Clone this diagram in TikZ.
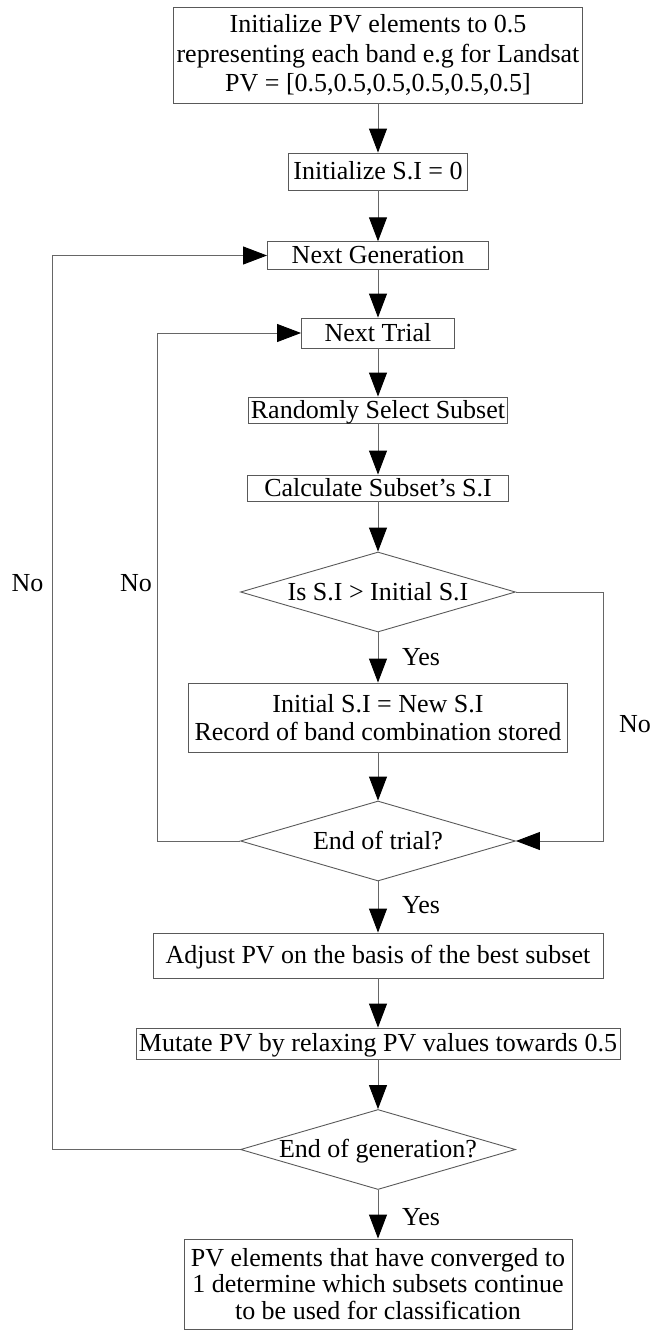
\documentclass[tikz,border=0pt]{standalone}
\usepackage{fontspec}
\setmainfont{Liberation Serif}
\usetikzlibrary{shapes.geometric,arrows.meta}
\begin{document}
\begin{tikzpicture}[x=1pt,y=-1pt,
  every node/.style={font=\fontsize{26}{28}\selectfont},
  box/.style={draw=black!65, line width=0.9pt, rectangle, inner sep=0pt, align=center},
  single/.style={text height=17.5pt, text depth=1pt},
  dia/.style={draw=black!65, line width=0.9pt, diamond, aspect=3.44, inner sep=-9pt,
              minimum width=275pt, minimum height=80pt, single},
  conn/.style={draw=black!60, line width=0.9pt},
  arr/.style={conn, -{Triangle[length=24pt,width=18pt,color=black]}},
  lbl/.style={inner sep=0pt, single}]
\useasboundingbox (0,0) rectangle (654,1330);

\node[box, inner xsep=3pt, minimum height=96pt,
      font=\fontsize{26}{29.5}\selectfont] (init) at (378,55)
  {Initialize PV elements to 0.5\\representing each band e.g for Landsat\\PV = [0.5,0.5,0.5,0.5,0.5,0.5]};
\node[box, single, minimum width=179pt, minimum height=37pt] (si0) at (378,171.5) {Initialize S.I = 0};
\node[box, single, minimum width=221pt, minimum height=27.5pt] (nextgen) at (378,255.5) {Next Generation};
\node[box, single, minimum width=153pt, minimum height=30pt] (nexttrial) at (378,333) {Next Trial};
\node[box, single, minimum width=259pt, minimum height=26pt] (rand) at (378,410) {Randomly Select Subset};
\node[box, single, minimum width=261pt, minimum height=26pt] (calc) at (378,488) {Calculate Subset's S.I};
\node[dia] (dec1) at (378,592) {Is S.I > Initial S.I};
\node[box, minimum width=379pt, minimum height=69pt] (store) at (378,717.5)
  {Initial S.I = New S.I\\Record of band combination stored};
\node[dia] (dec2) at (378,841) {End of trial?};
\node[box, single, minimum width=450pt, minimum height=45pt] (adjust) at (378,955.5)
  {Adjust PV on the basis of the best subset};
\node[box, single, minimum width=484pt, minimum height=31pt] (mutate) at (378,1043.5)
  {Mutate PV by relaxing PV values towards 0.5};
\node[dia] (dec3) at (378,1149.5) {End of generation?};
\node[box, minimum width=388pt, minimum height=90pt,
      font=\fontsize{26}{26.5}\selectfont] (final) at (378,1284)
  {PV elements that have converged to\\1 determine which subsets continue\\to be used for classification};

\draw[arr] (init) -- (si0);
\draw[arr] (si0) -- (nextgen);
\draw[arr] (nextgen) -- (nexttrial);
\draw[arr] (nexttrial) -- (rand);
\draw[arr] (rand) -- (calc);
\draw[arr] (calc) -- (dec1);
\draw[arr] (dec1) -- (store);
\draw[arr] (store) -- (dec2);
\draw[arr] (dec2) -- (adjust);
\draw[arr] (adjust) -- (mutate);
\draw[arr] (mutate) -- (dec3);
\draw[arr] (dec3) -- (final);

\coordinate (r1) at (603,592);
\coordinate (r2) at (603,841);
\draw[arr] (dec1.east) -- (r1) -- (r2) -- (dec2.east);
\coordinate (l1) at (157,841);
\coordinate (l2) at (157,333);
\draw[arr] (dec2.west) -- (l1) -- (l2) -- (nexttrial.west);
\coordinate (o1) at (52,1149.5);
\coordinate (o2) at (52,255.5);
\draw[arr] (dec3.west) -- (o1) -- (o2) -- (nextgen.west);

\node[lbl, anchor=west] (yes1) at (402,657) {Yes};
\node[lbl, anchor=west] (yes2) at (402,905) {Yes};
\node[lbl, anchor=west] (yes3) at (402,1217.5) {Yes};
\node[lbl] (no1) at (27.5,583) {No};
\node[lbl] (no2) at (136,583) {No};
\node[lbl] (no3) at (635,724) {No};
\end{tikzpicture}
\end{document}
